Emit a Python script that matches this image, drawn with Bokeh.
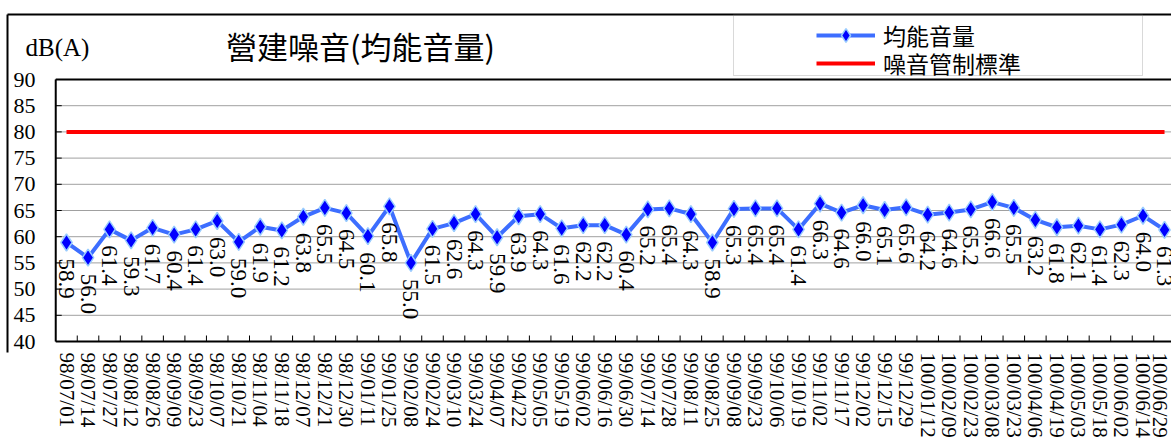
import math
from bokeh.plotting import figure
from bokeh.models import (Range1d, FixedTicker, LinearAxis, Legend, LegendItem,
                          Label, BoxAnnotation)
from bokeh.core.properties import value
from bokeh.embed import file_html
from bokeh.resources import INLINE

# ---------------- data ----------------
dates = ["98/07/01", "98/07/14", "98/07/27", "98/08/12", "98/08/26", "98/09/09",
         "98/09/23", "98/10/07", "98/10/21", "98/11/04", "98/11/18", "98/12/07",
         "98/12/21", "98/12/30", "99/01/11", "99/01/25", "99/02/08", "99/02/24",
         "99/03/10", "99/03/24", "99/04/07", "99/04/22", "99/05/05", "99/05/19",
         "99/06/02", "99/06/16", "99/06/30", "99/07/14", "99/07/28", "99/08/11",
         "99/08/25", "99/09/08", "99/09/23", "99/10/06", "99/10/19", "99/11/02",
         "99/11/17", "99/12/02", "99/12/15", "99/12/29", "100/01/12", "100/02/09",
         "100/02/23", "100/03/08", "100/03/23", "100/04/06", "100/04/19", "100/05/03",
         "100/05/18", "100/06/02", "100/06/14", "100/06/29"]
leq = [58.9, 56.0, 61.4, 59.3, 61.7, 60.4, 61.4, 63.0, 59.0, 61.9,
       61.2, 63.8, 65.5, 64.5, 60.1, 65.8, 55.0, 61.5, 62.6, 64.3,
       59.9, 63.9, 64.3, 61.6, 62.2, 62.2, 60.4, 65.2, 65.4, 64.3,
       58.9, 65.3, 65.4, 65.4, 61.4, 66.3, 64.6, 66.0, 65.1, 65.6,
       64.2, 64.6, 65.2, 66.6, 65.5, 63.2, 61.8, 62.1, 61.4, 62.3,
       64.0, 61.3]
limit_db = 80
y_ticks = [40, 45, 50, 55, 60, 65, 70, 75, 80, 85, 90]
title_text = "營建噪音(均能音量)"
unit_text = "dB(A)"
series_name = "均能音量"
limit_name = "噪音管制標準"

idx = list(range(len(dates)))
val_labels = [f"{v:.1f}" for v in leq]
tick_labels = [str(t) for t in y_ticks]
boundaries = [i + 0.5 for i in idx[:-1]]
limit_x = [idx[0], idx[-1]]
limit_y = [limit_db, limit_db]

SERIF = "Liberation Serif"
CJK = "Noto Sans CJK TC"

# geometry helpers (pixel layout of the chart box)
W, H = 1171, 447
PX_PER_CAT = 21.53
CAT0_PX = 66.0
PX_PER_DB = 5.24
Y90_PX = 79.0
BOX_LEFT, BOX_TOP, FRAME_BOTTOM = 7, 14, 352


def dx(px):
    return (px - CAT0_PX) / PX_PER_CAT


def dy(py):
    return y_ticks[-1] + (Y90_PX - py) / PX_PER_DB


x_lo, x_hi = dx(BOX_LEFT), dx(W)
y_lo, y_hi = dy(FRAME_BOTTOM), dy(BOX_TOP)
plot_left = idx[0] - 0.5
far_right = x_hi + 2

p = figure(width=W, height=H, output_backend="svg", toolbar_location=None,
           x_range=Range1d(x_lo, x_hi), y_range=Range1d(y_lo, y_hi),
           min_border_left=BOX_LEFT, min_border_right=0, min_border_top=BOX_TOP,
           min_border_bottom=H - FRAME_BOTTOM, background_fill_color="white",
           border_fill_color="white")
p.outline_line_color = None
p.xgrid.visible = False
p.ygrid.visible = False

# x axis (date labels only)
xa = p.xaxis[0]
xa.ticker = FixedTicker(ticks=idx)
xa.major_label_overrides = {i: d for i, d in zip(idx, dates)}
xa.major_label_orientation = -math.pi / 2
xa.major_tick_in = 0
xa.major_tick_out = 0
xa.minor_tick_in = 0
xa.minor_tick_out = 0
xa.axis_line_color = None
xa.major_label_text_font = SERIF
xa.major_label_text_font_size = "21px"
xa.major_label_text_color = "black"
xa.major_label_standoff = 0

# left axis acts as the outer border of the chart box
ya = p.yaxis[0]
ya.ticker = FixedTicker(ticks=[])
ya.major_tick_in = 0
ya.major_tick_out = 0
ya.minor_tick_in = 0
ya.minor_tick_out = 0
ya.axis_line_width = 2
ya.axis_line_color = "black"
ya.major_label_text_font_size = "0px"

top_axis = LinearAxis(ticker=FixedTicker(ticks=[]), axis_line_width=2,
                      axis_line_color="black", major_label_text_font_size="0px",
                      major_tick_in=0, major_tick_out=0, minor_tick_in=0,
                      minor_tick_out=0)
p.add_layout(top_axis, "above")

# plot-area gridlines, ticks, frame lines
grid_y = y_ticks[1:-1]
p.segment(x0=[plot_left] * len(grid_y), y0=grid_y, x1=[far_right] * len(grid_y),
          y1=grid_y, line_color="#a0a0a0", line_width=1)
tick_len = 6 / PX_PER_CAT
p.segment(x0=[plot_left] * len(y_ticks), y0=y_ticks,
          x1=[plot_left + tick_len] * len(y_ticks), y1=y_ticks,
          line_color="black", line_width=1)
tick_h = 6 / PX_PER_DB
p.segment(x0=boundaries, y0=[y_ticks[0]] * len(boundaries), x1=boundaries,
          y1=[y_ticks[0] + tick_h] * len(boundaries), line_color="black",
          line_width=1)
p.segment(x0=[plot_left, plot_left, plot_left],
          y0=[y_ticks[0], y_ticks[-1], y_ticks[0]],
          x1=[plot_left, far_right, far_right],
          y1=[y_ticks[-1], y_ticks[-1], y_ticks[0]],
          line_color="black", line_width=2)

# y tick labels
p.text(x=[dx(35)] * len(y_ticks), y=y_ticks, text=tick_labels,
       text_font=value(SERIF), text_font_size="22px", text_color="black",
       text_align="right", text_baseline="middle")

# series
red = p.line(limit_x, limit_y, line_color="#ff0000", line_width=4)
ln = p.line(idx, leq, line_color="#3d6eff", line_width=4)
sc = p.scatter(idx, leq, marker="diamond", size=17, fill_color="#0000ff",
               line_color="#99ccff", line_width=1.5)
p.text(idx, leq, text=val_labels, angle=-math.pi / 2,
       text_font=value(SERIF), text_font_size="23px", text_color="black",
       text_align="left", text_baseline="middle", y_offset=16)

# legend box + legends (one row each)
p.add_layout(BoxAnnotation(left=dx(733), right=dx(1142), top=dy(BOX_TOP),
                           bottom=dy(75), fill_alpha=0, line_color="#808080",
                           line_width=1))
legend_style = dict(border_line_color=None, background_fill_alpha=0, padding=0,
                    margin=0, spacing=0, glyph_width=59, glyph_height=34,
                    label_height=22, label_standoff=8, label_text_font=CJK,
                    label_text_font_size="23px", label_text_color="black")
legend1 = Legend(items=[LegendItem(label=series_name, renderers=[ln, sc])],
                 location=(816 - BOX_LEFT, FRAME_BOTTOM - 52), **legend_style)
legend2 = Legend(items=[LegendItem(label=limit_name, renderers=[red])],
                 location=(816 - BOX_LEFT, FRAME_BOTTOM - 80), **legend_style)
p.add_layout(legend1)
p.add_layout(legend2)

p.add_layout(Label(x=dx(360), y=dy(45), text=title_text, text_font=CJK,
                   text_font_size="31px", text_align="center",
                   text_baseline="middle", text_color="black"))
p.add_layout(Label(x=dx(25), y=dy(47), text=unit_text, text_font=SERIF,
                   text_font_size="25px", text_align="left",
                   text_baseline="middle", text_color="black"))

open("out.html", "w").write(file_html(p, INLINE))
